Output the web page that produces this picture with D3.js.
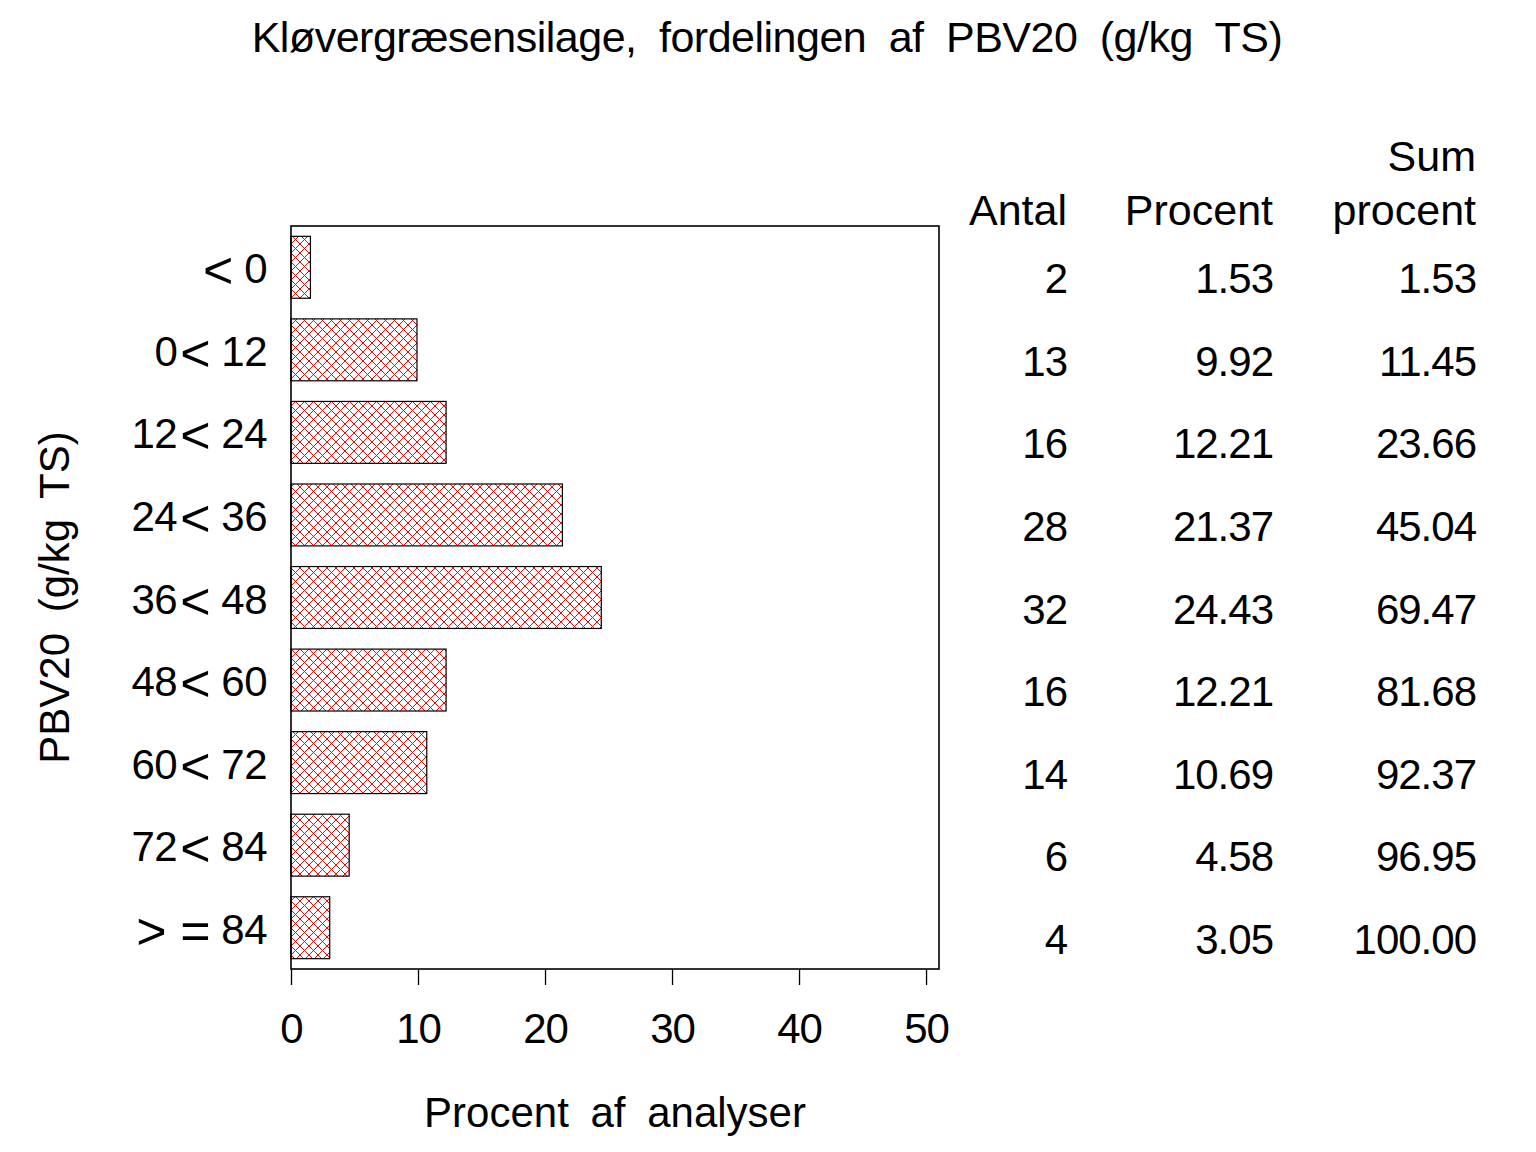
<!DOCTYPE html>
<html><head><meta charset="utf-8">
<script src="https://cdn.jsdelivr.net/npm/d3@7"></script>
<style>
html,body{margin:0;padding:0;background:#fff;}
text{font-family:"Liberation Sans",Arial,Helvetica,sans-serif;fill:#000;}
</style></head>
<body>
<svg id="chart" width="1536" height="1152"></svg>
<script>
const categories = ["< 0","0< 12","12< 24","24< 36","36< 48","48< 60","60< 72","72< 84","> = 84"];
const antal = [2,13,16,28,32,16,14,6,4];
const procent = [1.53,9.92,12.21,21.37,24.43,12.21,10.69,4.58,3.05];
const sumProcent = [1.53,11.45,23.66,45.04,69.47,81.68,92.37,96.95,100.00];
const xTicks = [0,10,20,30,40,50];
const titleText = "Kløvergræsensilage, fordelingen af PBV20 (g/kg TS)";
const xLabel = "Procent af analyser";
const yLabel = "PBV20 (g/kg TS)";
const tableHeaders = [["Antal"],["Procent"],["Sum","procent"]];

const svg = d3.select("#chart");
const L = 291, R = 939, T = 226, B = 969;
const fs = 42;

const x = d3.scaleLinear().domain([0, 51.02]).range([L, R]);
const y = d3.scaleBand().domain(categories).range([T, B]).paddingInner(0.25).paddingOuter(0.125);

// hatch pattern
const defs = svg.append("defs");
const pat = defs.append("pattern").attr("id","hatch").attr("patternUnits","userSpaceOnUse")
  .attr("width",9).attr("height",9).attr("x",L).attr("y",T);
pat.append("path").attr("d","M-1,-1 L10,10 M-1,10 L10,-1 M8,-1 L10,1 M-1,8 L1,10 M8,10 L10,8 M-1,1 L1,-1")
  .attr("stroke","#ff0000").attr("stroke-width",1).attr("fill","none");

// title
svg.append("text").attr("x",767).attr("y",52).attr("text-anchor","middle")
  .style("font-size","43px").style("word-spacing","11px").style("letter-spacing","-0.5px").text(titleText);

// bars
svg.append("g").selectAll("rect").data(categories).join("rect")
  .attr("x", x(0)).attr("y", d => y(d))
  .attr("width", (d,i) => x(procent[i]) - x(0)).attr("height", y.bandwidth())
  .attr("fill","url(#hatch)").attr("stroke","#000").attr("stroke-width",1.2);

// frame
svg.append("rect").attr("x",L).attr("y",T).attr("width",R-L).attr("height",B-T)
  .attr("fill","none").attr("stroke","#000").attr("stroke-width",1.6);

// x axis
const xAxis = svg.append("g").attr("transform",`translate(0,${B})`)
  .call(d3.axisBottom(x).tickValues(xTicks).tickSize(16).tickFormat(d3.format("d")));
xAxis.select(".domain").remove();
xAxis.selectAll(".tick line").attr("stroke","#000").attr("stroke-width",1.3);
xAxis.selectAll(".tick text").attr("y",74).attr("dy",0)
  .style("font-size",fs+"px").style("font-family","'Liberation Sans',Arial,sans-serif").attr("fill","#000")
  .style("letter-spacing","-1px");

// x label
svg.append("text").attr("x",(L+R)/2).attr("y",1127).attr("text-anchor","middle")
  .style("font-size",fs+"px").style("word-spacing","10px").text(xLabel);

// y category labels (symbols drawn larger, as in the reference)
const catG = svg.append("g").selectAll("text").data(categories).join("text")
  .attr("x",267).attr("y", d => y(d) + y.bandwidth()/2 + 16)
  .attr("text-anchor","end").style("font-size",fs+"px").style("letter-spacing","-0.5px");
catG.each(function(d){
  const t = d3.select(this);
  const parts = d.split(/([<>=])/).filter(p => p.length);
  let shifted = false;
  parts.forEach((p, k) => {
    const isSym = /^[<>=]$/.test(p);
    const ts = t.append("tspan").text(p);
    if (isSym) {
      ts.style("font-size","52px").attr("dy", shifted ? 0 : 5);
      if (k > 0) ts.attr("dx", 3);
      shifted = true;
    } else {
      ts.style("font-size",fs+"px").attr("dy", shifted ? -5 : 0);
      shifted = false;
    }
  });
});

// y label
svg.append("text").attr("transform",`translate(69,${(T+B)/2}) rotate(-90)`).attr("text-anchor","middle")
  .style("font-size",fs+"px").style("word-spacing","9px").text(yLabel);

// table
const colX = [1067, 1273, 1476];
const cols = [antal, procent.map(v => v.toFixed(2)), sumProcent.map(v => v.toFixed(2))];
tableHeaders.forEach((h, c) => {
  h.slice().reverse().forEach((line, k) => {
    svg.append("text").attr("x", colX[c]).attr("y", 225 - k*54).attr("text-anchor","end")
      .style("font-size","43px").text(line);
  });
  svg.append("g").selectAll("text").data(categories).join("text")
    .attr("x", colX[c]).attr("y", d => y(d) + y.bandwidth()/2 + 26)
    .attr("text-anchor","end").style("font-size",fs+"px").style("letter-spacing","-1px")
    .text((d,i) => cols[c][i]);
});
</script>
</body></html>
